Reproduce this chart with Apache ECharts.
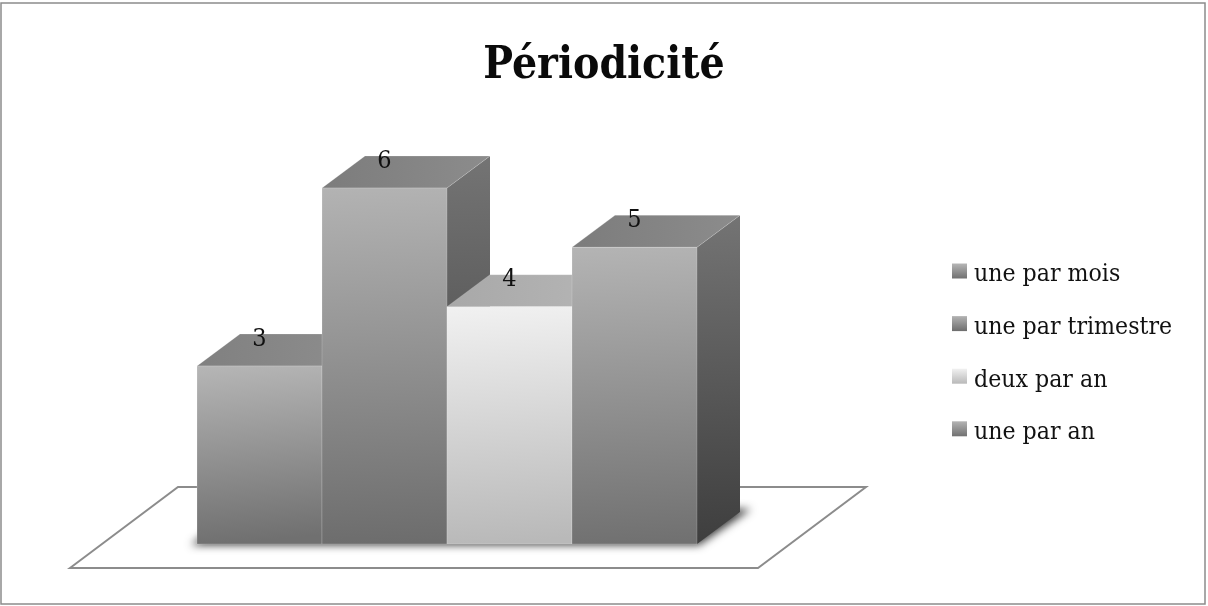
<!DOCTYPE html>
<html>
<head>
<meta charset="utf-8">
<style>
  html, body { margin: 0; padding: 0; background: #fff; }
  #chart { width: 1208px; height: 606px; }
</style>
<script src="https://cdn.jsdelivr.net/npm/echarts@6/dist/echarts.min.js"></script>
</head>
<body>
<div id="chart"></div>
<script>
const categories = ['une par mois', 'une par trimestre', 'deux par an', 'une par an']
const values = [3, 6, 4, 5]

const fontName = 'DejaVu Serif Condensed'
const depthX = 43
const depthY = 32
// front, top and side colours of each bar, [start, end]
const frontColors = [['#b6b6b6', '#707070'], ['#b3b3b3', '#6d6d6d'], ['#f1f1f1', '#b9b9b9'], ['#b4b4b4', '#717171']]
const topColors = [['#808080', '#8e8e8e'], ['#7c7c7c', '#8c8c8c'], ['#a8a8a8', '#b6b6b6'], ['#7c7c7c', '#8c8c8c']]
const sideColors = [['#747474', '#3e3e3e'], ['#747474', '#3e3e3e'], ['#bcbcbc', '#8a8a8a'], ['#747474', '#3e3e3e']]

const gradient = (pair, x2, y2) => new echarts.graphic.LinearGradient(0, 0, x2, y2, [
  { offset: 0, color: pair[0] },
  { offset: 1, color: pair[1] }
])

const chart = echarts.init(document.getElementById('chart'))

function renderBar(index) {
  return (params, api) => {
    const p = api.coord([api.value(0), api.value(1)])
    const base = api.coord([api.value(0), 0])
    const band = api.size([1, 0])[0]
    const l = p[0] - band / 2
    const r = p[0] + band / 2
    const t = p[1]
    const b = base[1]
    const edge = 'rgba(255,255,255,0.18)'
    return {
      type: 'group',
      children: [
        {
          type: 'polygon',
          shape: { points: [[r, t], [r + depthX, t - depthY], [r + depthX, b - depthY], [r, b]] },
          style: { fill: gradient(sideColors[index], 0.15, 1) }
        },
        {
          type: 'polygon',
          shape: { points: [[l, t], [l + depthX, t - depthY], [r + depthX, t - depthY], [r, t]] },
          style: { fill: gradient(topColors[index], 1, 0), stroke: edge, lineWidth: 1 }
        },
        {
          type: 'rect',
          shape: { x: l, y: t, width: band, height: b - t },
          style: { fill: gradient(frontColors[index], 0.12, 1), stroke: edge, lineWidth: 1 }
        },
        {
          type: 'text',
          x: p[0],
          y: t - 27,
          z2: 100,
          style: {
            text: String(api.value(1)),
            fill: '#111',
            font: '25px "' + fontName + '"',
            align: 'center',
            verticalAlign: 'middle'
          }
        }
      ]
    }
  }
}

function renderFloor(params, api) {
  const first = api.coord([0, 0])
  const last = api.coord([categories.length - 1, 0])
  const band = api.size([1, 0])[0]
  const l = first[0] - band / 2
  const r = last[0] + band / 2
  const b = first[1]
  // shape sits off the canvas, only its blurred shadow lands on the floor
  const away = 3000
  return {
    type: 'group',
    children: [
      {
        type: 'polygon',
        shape: { points: [[l - 127, b + 24], [l - 19, b - 57], [r + 169, b - 57], [r + 61, b + 24]] },
        style: { fill: '#fff', stroke: '#8c8c8c', lineWidth: 2 }
      },
      {
        type: 'polygon',
        shape: { points: [[l - 6 - away, b + 1], [r + 2 - away, b + 1], [r + 54 - away, b - 35], [l + 40 - away, b - 35]] },
        style: { fill: '#555', shadowBlur: 8, shadowColor: 'rgba(60,60,60,1)', shadowOffsetX: away }
      }
    ]
  }
}

const series = categories.map((name, i) => ({
  name: name,
  type: 'custom',
  renderItem: renderBar(i),
  z: 3 + i,
  silent: true,
  data: [[i, values[i]]]
}))
series.unshift({
  name: 'floor',
  type: 'custom',
  renderItem: renderFloor,
  z: 2,
  silent: true,
  data: [[0, 0]]
})

chart.setOption({
  animation: false,
  backgroundColor: '#fff',
  title: {
    text: 'Périodicité',
    left: 'center',
    top: 40,
    textStyle: { fontFamily: fontName, fontSize: 44, fontWeight: 'bold', color: '#0a0a0a' }
  },
  legend: {
    orient: 'vertical',
    left: 952,
    top: 262.5,
    padding: 0,
    itemWidth: 15,
    itemHeight: 15,
    itemGap: 27.6,
    selectedMode: false,
    formatter: name => '{a|' + name + '}',
    textStyle: {
      rich: {
        a: { fontFamily: fontName, fontSize: 24.6, color: '#111', padding: [8, 0, 0, 2] }
      }
    },
    data: categories.map((name, i) => ({
      name: name,
      icon: 'rect',
      itemStyle: { color: gradient(frontColors[i], 0, 1) }
    }))
  },
  grid: { left: 197, top: 188, width: 500, height: 356 },
  xAxis: {
    type: 'value',
    min: -0.5,
    max: 3.5,
    show: false
  },
  yAxis: {
    type: 'value',
    min: 0,
    max: 6,
    show: false
  },
  graphic: [{
    type: 'rect',
    shape: { x: 1, y: 3, width: 1204, height: 601 },
    style: { fill: 'none', stroke: '#8c8c8c', lineWidth: 1.5 },
    silent: true
  }],
  series: series
})
</script>
</body>
</html>
